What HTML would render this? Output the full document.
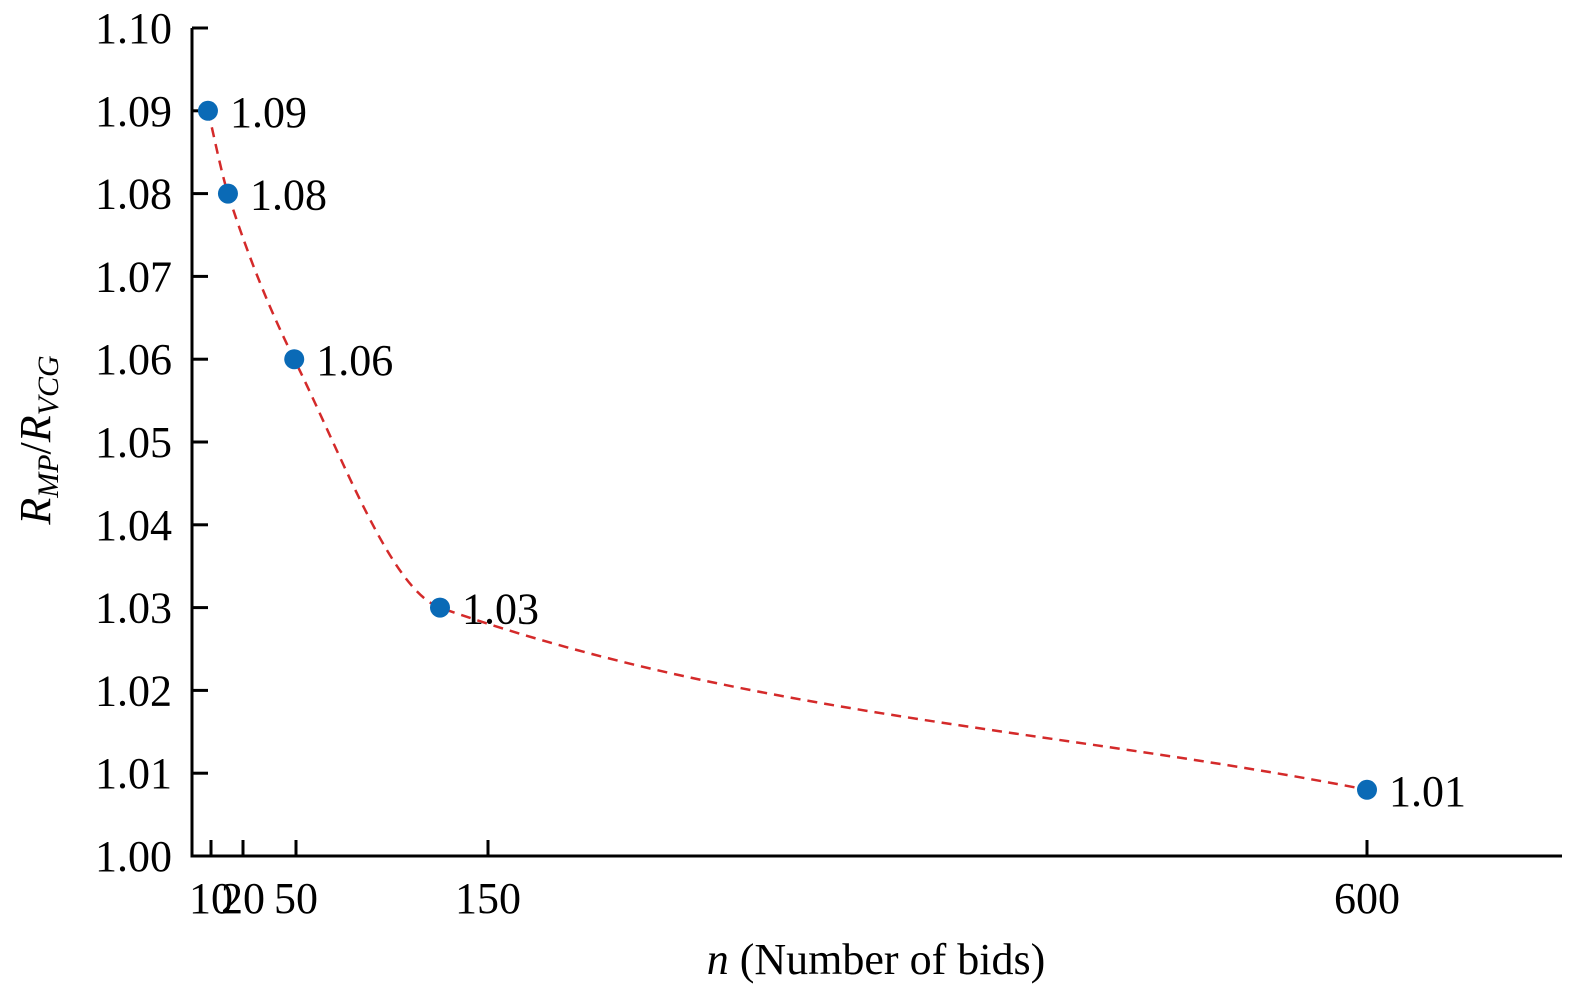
<!DOCTYPE html>
<html><head><meta charset="utf-8"><style>
body{margin:0;background:#fff}
svg text{font-family:"Liberation Serif",serif;fill:#000}
</style></head><body>
<svg width="1575" height="996">
<g id="axes"></g><g id="marks"></g>
<text x="876" y="974" font-size="44" text-anchor="middle"><tspan font-style="italic">n</tspan> (Number of bids)</text>
<text transform="translate(50,440) rotate(-90)" font-size="44" text-anchor="middle"><tspan font-style="italic">R</tspan><tspan font-style="italic" font-size="30" dy="8">MP</tspan><tspan dy="-8">/</tspan><tspan font-style="italic">R</tspan><tspan font-style="italic" font-size="30" dy="8">VCG</tspan></text>
</svg>
<script>
const xTicks=[10,20,50,150,600];
const yTicks=[1.00,1.01,1.02,1.03,1.04,1.05,1.06,1.07,1.08,1.09,1.10];
const nValues=[8.4,15.3,49,125,600];
const ratioValues=[1.09,1.08,1.06,1.03,1.008];
const pointLabels=["1.09","1.08","1.06","1.03","1.01"];
// piecewise axis scale (axis definition)
const xDom=[0,10,20,50,150,600,700], xRng=[192,211,243,296,488,1367,1562];
function xs(v){for(let i=1;i<xDom.length;i++){if(v<=xDom[i]||i==xDom.length-1){const t=(v-xDom[i-1])/(xDom[i]-xDom[i-1]);return xRng[i-1]+t*(xRng[i]-xRng[i-1]);}}}
function ys(v){return 856-(v-1.0)/0.10*828;}
const NS="http://www.w3.org/2000/svg";
function mk(tag,attrs,parent){const e=document.createElementNS(NS,tag);for(const k in attrs)e.setAttribute(k,attrs[k]);parent.appendChild(e);return e;}
const ax=document.getElementById('axes'),mg=document.getElementById('marks');
let e=mk('path',{d:'M192,28 V856 H1562',fill:'none',stroke:'#000','stroke-width':3},ax);


yTicks.forEach(v=>{const y=ys(v);
 let t=mk('line',{x1:192,x2:208,y1:y,y2:y,stroke:'#000','stroke-width':3},ax);
 
 
 let l=mk('text',{x:172,y:y+15,'font-size':44,'text-anchor':'end'},ax);l.textContent=v.toFixed(2);
 
 
});
xTicks.forEach(v=>{const x=xs(v);
 let t=mk('line',{x1:x,x2:x,y1:840,y2:856,stroke:'#000','stroke-width':3},ax);
 
 
 let l=mk('text',{x:x,y:913,'font-size':44,'text-anchor':'middle'},ax);l.textContent=v;
 
 
});
// monotone cubic curve
const P=nValues.map((n,i)=>[xs(n),ys(ratioValues[i])]);
const m=[];const d=[];
for(let i=0;i<P.length-1;i++)d.push((P[i+1][1]-P[i][1])/(P[i+1][0]-P[i][0]));
for(let i=0;i<P.length;i++){if(i==0)m.push(d[0]);else if(i==P.length-1)m.push(d[i-1]);else m.push(d[i-1]*d[i]<=0?0:2/(1/d[i-1]+1/d[i]));}
let path='M'+P[0][0]+','+P[0][1];
for(let i=0;i<P.length-1;i++){const h=(P[i+1][0]-P[i][0])/3;
 path+=` C${P[i][0]+h},${P[i][1]+m[i]*h} ${P[i+1][0]-h},${P[i+1][1]-m[i+1]*h} ${P[i+1][0]},${P[i+1][1]}`;}
let c=mk('path',{d:path,fill:'none',stroke:'#d42a2a','stroke-width':2.5,'stroke-dasharray':'10,7'},mg);


P.forEach((p,i)=>{
 let dot=mk('circle',{cx:p[0],cy:p[1],r:10,fill:'#0a6ab6'},mg);
 
 
 let l=mk('text',{x:p[0]+22,y:p[1]+16,'font-size':44},mg);l.textContent=pointLabels[i];
 
 
});
</script>
</body></html>
